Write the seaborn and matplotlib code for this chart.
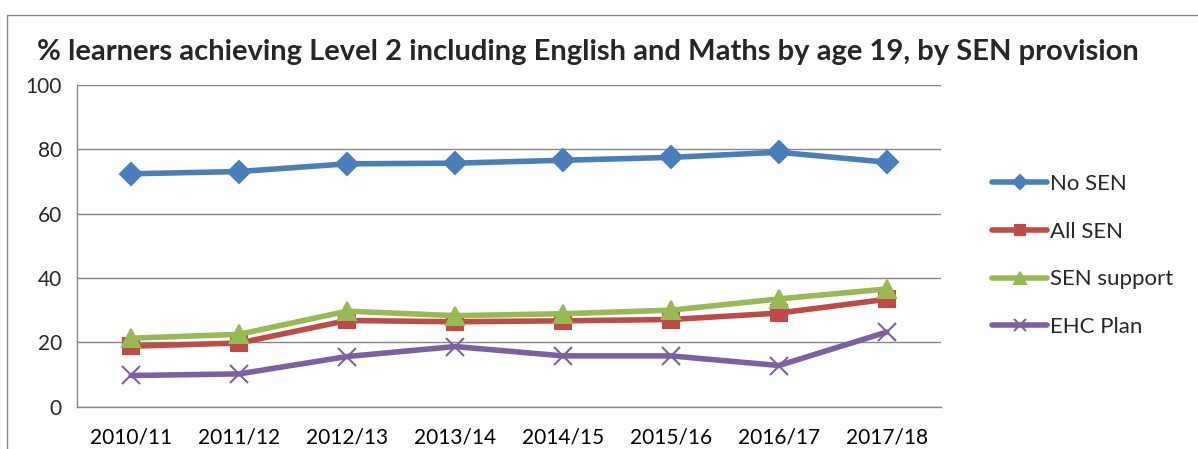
import matplotlib
matplotlib.use('Agg')
import matplotlib.pyplot as plt
import seaborn as sns
import pandas as pd
from matplotlib.lines import Line2D

years = ["2010/11", "2011/12", "2012/13", "2013/14", "2014/15", "2015/16", "2016/17", "2017/18"]
no_sen = [72.4, 73.1, 75.5, 75.7, 76.6, 77.5, 79.1, 76.0]
all_sen = [18.8, 19.8, 26.8, 26.4, 26.7, 27.1, 29.1, 33.4]
sen_support = [21.3, 22.5, 29.7, 28.3, 28.9, 30.0, 33.5, 36.6]
ehc_plan = [9.7, 10.2, 15.6, 18.7, 15.8, 15.8, 12.8, 23.2]

series = {
    "No SEN": (no_sen, "#4A7EBB", "D", 11),
    "All SEN": (all_sen, "#BE4B48", "s", 11),
    "SEN support": (sen_support, "#98B954", "^", 12.5),
    "EHC Plan": (ehc_plan, "#7D60A0", "x", 13),
}

sns.set_style("white")
plt.rcParams['font.family'] = ['Lato', 'DejaVu Sans']

fig = plt.figure(figsize=(11.98, 4.49), dpi=100)
ax = fig.add_axes([0.0645, 0.0942, 0.7207, 0.7165])

pos = list(range(len(years)))
for name, (vals, color, marker, ms) in series.items():
    df = pd.DataFrame({"x": pos, "y": vals})
    sns.lineplot(data=df, x="x", y="y", ax=ax, color=color, marker=marker,
                 markersize=ms, linewidth=4, markeredgecolor=color,
                 markeredgewidth=1.5, label=name, clip_on=False)

ax.set_xlim(-0.5, len(years) - 0.5)
ax.set_ylim(0, 100)
ax.set_yticks(range(0, 101, 20))
ax.set_xticks(pos)
ax.set_xticklabels(years)
ax.set_xticks([p - 0.5 for p in pos] + [len(years) - 0.5], minor=True)
ax.tick_params(axis='x', which='major', length=0, pad=15, labelsize=15, colors='black')
ax.tick_params(axis='x', which='minor', length=5, width=1, color='#868686', direction='out')
ax.tick_params(axis='y', length=5, width=1, color='#868686', direction='out', pad=6, labelsize=15)
ax.set_xlabel("")
ax.set_ylabel("")

ax.grid(False)
ax.yaxis.grid(True, color='#868686', linewidth=1)
ax.set_axisbelow(True)
for s in ['top', 'right']:
    ax.spines[s].set_visible(False)
for s in ['left', 'bottom']:
    ax.spines[s].set_color('#868686')
    ax.spines[s].set_linewidth(1)

handles, labels = ax.get_legend_handles_labels()
ax.legend(handles, labels, loc='center left', bbox_to_anchor=(0.828, 0.431),
          bbox_transform=fig.transFigure, frameon=False, fontsize=16,
          handlelength=2.5, handletextpad=0.12, labelspacing=1.25, markerscale=0.65,
          borderaxespad=0, borderpad=0)

fig.text(0.491, 0.884, "% learners achieving Level 2 including English and Maths by age 19, by SEN provision",
         ha='center', va='center', fontsize=21, fontweight='bold')

# outer chart border (only top and left edges fall inside the picture)
fig.add_artist(Line2D([0.0058, 0.0058, 1.2], [-0.2, 0.9666, 0.9666],
                      transform=fig.transFigure, color='#868686', linewidth=1))

fig.savefig("out.png", dpi=100)
